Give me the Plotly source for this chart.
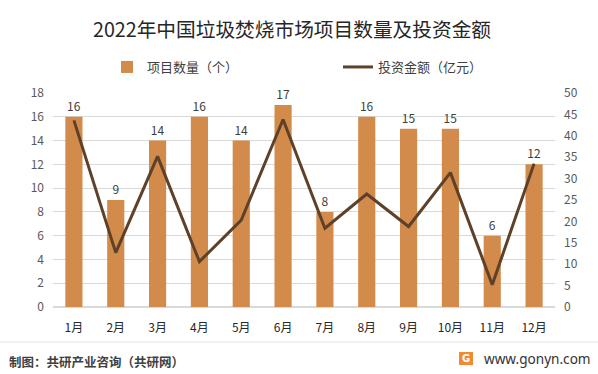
import plotly.graph_objects as go

months = ["1月", "2月", "3月", "4月", "5月", "6月", "7月", "8月", "9月", "10月", "11月", "12月"]
project_counts = [16, 9, 14, 16, 14, 17, 8, 16, 15, 15, 6, 12]
investment = [43.6, 12.7, 35.2, 10.6, 20.3, 43.8, 18.4, 26.4, 18.8, 31.4, 5.2, 33.5]
left_ticks = [0, 2, 4, 6, 8, 10, 12, 14, 16, 18]
right_ticks = [0, 5, 10, 15, 20, 25, 30, 35, 40, 45, 50]

FONT = "Noto Sans CJK SC"
BAR_COLOR = "#D38B4C"
LINE_COLOR = "#5E4128"

L, R, T, B = 53, 43, 93, 67
W, H = 598, 374
PW, PH = W - L - R, H - T - B


def px_x(x):
    return (x - L) / PW


def px_y(y):
    return (H - B - y) / PH


fig = go.Figure()
fig.add_trace(go.Bar(
    x=months, y=project_counts, name="项目数量（个）",
    marker=dict(color=BAR_COLOR, line=dict(width=0)),
    text=project_counts, textposition="outside",
    textfont=dict(size=12, color="#404040", family=FONT),
    cliponaxis=False, width=0.41,
))
fig.add_trace(go.Scatter(
    x=months, y=investment, name="投资金额（亿元）", yaxis="y2",
    mode="lines", line=dict(color=LINE_COLOR, width=3),
))

fig.update_layout(
    width=W, height=H,
    margin=dict(l=L, r=R, t=T, b=B, autoexpand=False),
    paper_bgcolor="white", plot_bgcolor="white",
    font=dict(family=FONT, color="#595959", size=12),
    title=dict(text="2022年中国垃圾焚烧市场项目数量及投资金额", x=292 / W, xanchor="center",
               y=1 - 30 / H, yanchor="middle",
               font=dict(size=19.7, color="#262626", family=FONT)),
    bargap=0.59,
    showlegend=True,
    legend=dict(orientation="h", x=px_x(107), xanchor="left", y=px_y(67),
                yanchor="middle", font=dict(size=13, color="#404040", family=FONT),
                entrywidth=186, itemwidth=30, bgcolor="rgba(0,0,0,0)"),
    xaxis=dict(showgrid=False, showline=False, ticks="", tickfont=dict(size=12, color="#262626"),
               range=[-0.5, 11.5], automargin=False, ticklabelstandoff=12),
    yaxis=dict(range=[0, 18], tickvals=left_ticks, showgrid=True, gridcolor="#D9D9D9",
               gridwidth=1, zeroline=True, zerolinecolor="#D9D9D9", showline=False, ticks="",
               tickfont=dict(size=12, color="#595959"), automargin=False, ticklabelstandoff=8),
    yaxis2=dict(range=[0, 50], tickvals=right_ticks, overlaying="y", side="right",
                showgrid=False, zeroline=False, showline=False, ticks="",
                tickfont=dict(size=12, color="#595959"), automargin=False, ticklabelstandoff=8),
)

# footer separator
fig.add_shape(type="line", xref="paper", yref="paper", x0=px_x(0), x1=px_x(W),
              y0=px_y(342), y1=px_y(342), line=dict(color="#E3E3E3", width=1))
fig.add_annotation(text="<b>制图：共研产业咨询（共研网）</b>", xref="paper", yref="paper",
                   x=px_x(7), xanchor="left", y=px_y(361), yanchor="middle",
                   showarrow=False, font=dict(size=12.5, color="#404040", family=FONT))
# logo
fig.add_shape(type="rect", xref="paper", yref="paper",
              x0=px_x(459), x1=px_x(473), y0=px_y(365), y1=px_y(352),
              line=dict(width=0), fillcolor="#F28A2E")
fig.add_annotation(text="<b>G</b>", xref="paper", yref="paper",
                   x=px_x(466), xanchor="center", y=px_y(358.5), yanchor="middle",
                   showarrow=False, font=dict(size=10, color="white", family="DejaVu Sans"))
fig.add_annotation(text="www.gonyn.com", xref="paper", yref="paper",
                   x=px_x(482), xanchor="left", y=px_y(358), yanchor="middle",
                   showarrow=False, font=dict(size=13.6, color="#333333", family="Noto Sans"))

fig.write_html("out.html", config={"displayModeBar": False},
               post_script="document.body.style.margin='0';")
